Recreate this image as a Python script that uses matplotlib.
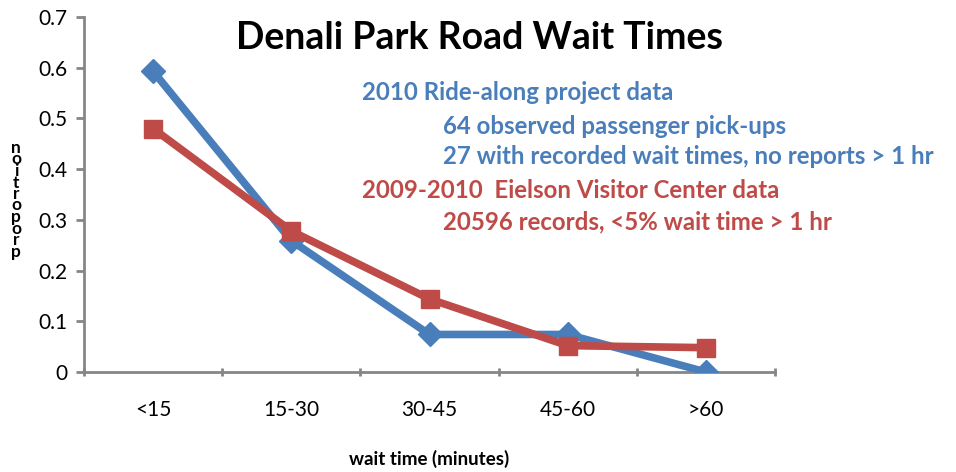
import matplotlib
matplotlib.use('Agg')
import matplotlib.pyplot as plt
import numpy as np

# data
categories = ['<15', '15-30', '30-45', '45-60', '>60']
ride_along = [0.593, 0.259, 0.074, 0.074, 0.0]
eielson = [0.480, 0.278, 0.144, 0.052, 0.048]
yticks = [0, 0.1, 0.2, 0.3, 0.4, 0.5, 0.6, 0.7]

blue = '#4A7EBB'
red = '#BE4B48'
grey = '#868686'

plt.rcParams['font.family'] = ['Lato', 'DejaVu Sans']

fig = plt.figure(figsize=(9.56, 4.72), dpi=100)
ax = fig.add_axes([84 / 956, 100 / 472, (775 - 84) / 956, (372 - 17) / 472])

x = np.arange(len(categories))
ax.plot(x, ride_along, color=blue, lw=5.5, marker='D', ms=12, zorder=3)
ax.plot(x, eielson, color=red, lw=5.5, marker='s', ms=13, zorder=3)

ax.set_xlim(-0.5, len(categories) - 0.5)
ax.set_ylim(0, 0.7)
ax.set_yticks(yticks)
ax.set_yticklabels(['0'] + ['%.1f' % v for v in yticks[1:]])
ax.set_xticks(x)
ax.set_xticklabels(categories)
ax.set_xticks(np.arange(len(categories) + 1) - 0.5, minor=True)
ax.tick_params(axis='x', which='major', length=0, pad=20, labelsize=15)
ax.tick_params(axis='x', which='minor', length=6, width=2, color=grey, direction='inout')
ax.tick_params(axis='y', length=6, width=2, color=grey, labelsize=15, pad=6)

for s in ['top', 'right']:
    ax.spines[s].set_visible(False)
for s in ['left', 'bottom']:
    ax.spines[s].set_color(grey)
    ax.spines[s].set_linewidth(2)

ax.set_xlabel('wait time (minutes)', fontsize=13.5, fontweight='bold', labelpad=22)

fig.text(480 / 956, 1 - 38 / 472, 'Denali Park Road Wait Times', fontsize=27,
         fontweight='bold', ha='center', va='center')

# notes
notes = [
    (362, 93, '2010 Ride-along project data', blue),
    (443, 126, '64 observed passenger pick-ups', blue),
    (443, 157, '27 with recorded wait times, no reports > 1 hr', blue),
    (362, 190, '2009-2010  Eielson Visitor Center data', red),
    (443, 222, '20596 records, <5% wait time > 1 hr', red),
]
for nx, ny, txt, col in notes:
    fig.text(nx / 956, 1 - ny / 472, txt, fontsize=17.3, fontweight='bold',
             color=col, ha='left', va='center')

# overlapping vertical y label (as in the original)
ylab = 'proportion'[::-1]
for i, ch in enumerate(ylab):
    fig.text(16 / 956, 1 - (148 + i * 11.5) / 472, ch, fontsize=12.5,
             fontweight='bold', ha='center', va='center')

fig.savefig('out.png', dpi=100)
